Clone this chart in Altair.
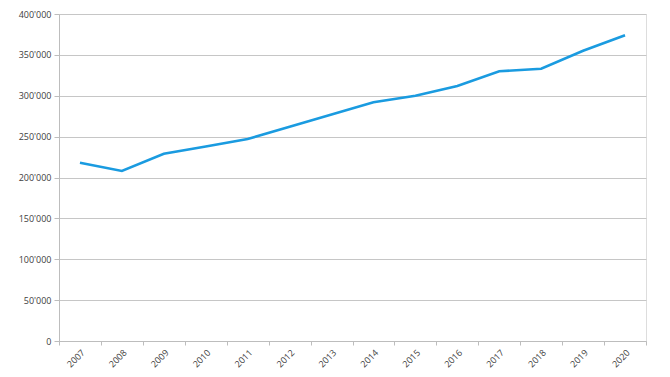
import altair as alt
import pandas as pd

years = ["2007", "2008", "2009", "2010", "2011", "2012", "2013",
         "2014", "2015", "2016", "2017", "2018", "2019", "2020"]
values = [218000, 208000, 229000, 238000, 247000, 262000, 277000,
          292000, 300000, 312000, 330000, 333000, 355000, 374000]

df = pd.DataFrame({"year": years, "value": values})

font = "Open Sans"
line = alt.Chart(df).mark_line(color="#1a9be0", strokeWidth=2.6).encode(
    x=alt.X("year:N", sort=years,
            scale=alt.Scale(type="band", paddingInner=0, paddingOuter=0),
            axis=alt.Axis(title=None, labelAngle=-45, tickBand="extent",
                          domainColor="#bdbdbd", tickColor="#bdbdbd",
                          tickSize=4, labelFontSize=9, labelColor="#404040",
                          labelFont=font, labelPadding=3, grid=False)),
    y=alt.Y("value:Q",
            scale=alt.Scale(domain=[0, 400000], nice=False),
            axis=alt.Axis(title=None, values=list(range(0, 400001, 50000)),
                          labelExpr="replace(format(datum.value, ','), ',', \"'\")",
                          domainColor="#bdbdbd", tickColor="#bdbdbd",
                          tickSize=5, labelFontSize=9, labelColor="#404040",
                          labelFont=font, labelPadding=3,
                          grid=True, gridColor="#c6c6c6", gridWidth=1)),
)

chart = line.properties(
    width=587, height=327,
    autosize=alt.AutoSizeParams(type="none"),
    padding={"left": 59, "top": 14, "right": 24, "bottom": 36},
).configure_view(stroke=None).configure(background="white")

chart.save("out.html", embed_options={"renderer": "svg", "actions": False})
